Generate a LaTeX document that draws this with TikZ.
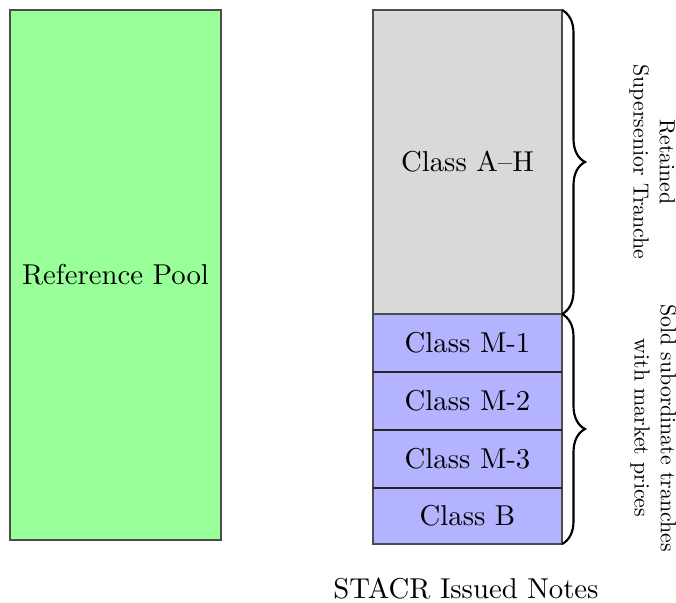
\documentclass[tikz,border=0pt]{standalone}
\usetikzlibrary{decorations.pathreplacing,positioning}
\definecolor{poolgreen}{HTML}{99FF99}
\definecolor{seniorgray}{HTML}{D9D9D9}
\definecolor{mezzblue}{HTML}{B3B3FF}
\tikzset{
  box/.style={draw=black!70, line width=0.45pt, inner sep=0pt, outer sep=0pt, anchor=north west},
  tranche/.style={box, fill=mezzblue, minimum width=189*0.348pt, minimum height=58*0.348pt},
  bracestyle/.style={decorate, decoration={brace, amplitude=8pt}, line width=0.75pt},
  sidelabel/.style={rotate=-90, align=center, inner sep=0pt}
}
\begin{document}
\begin{tikzpicture}[x=0.348pt, y=-0.348pt]
  \useasboundingbox (0,0) rectangle (676,602);
  \node[box, fill=poolgreen, minimum width=211*0.348pt, minimum height=530*0.348pt] (pool) at (10,10) {};
  \node at (pool.center) {Reference Pool};
  \node[box, fill=seniorgray, minimum width=189*0.348pt, minimum height=304*0.348pt] (senior) at (373,10) {};
  \node at (senior.center) {Class A--H};
  \node[tranche] (m1) at (373,314) {};
  \node[tranche] (m2) at (373,372) {};
  \node[tranche] (m3) at (373,430) {};
  \node[tranche, minimum height=56*0.348pt] (b) at (373,488) {};
  \draw[black!85, line width=0.45pt] (m1.south west) -- (m1.south east);
  \draw[black!85, line width=0.45pt] (m2.south west) -- (m2.south east);
  \draw[black!85, line width=0.45pt] (m3.south west) -- (m3.south east);
  \node at (m1.center) {Class M-1};
  \node at (m2.center) {Class M-2};
  \node at (m3.center) {Class M-3};
  \node at (b.center) {Class B};
  \draw[bracestyle] (senior.north east) -- (senior.south east);
  \draw[bracestyle] (m1.north east) -- (b.south east);
  \node[sidelabel] (lab1) at (652,162) {\scalebox{0.76}{\begin{tabular}{@{}c@{}}Retained\\Supersenior Tranche\end{tabular}}};
  \node[sidelabel] (lab2) at (653,428) {\scalebox{0.76}{\begin{tabular}{@{}c@{}}Sold subordinate tranches\\with market prices\end{tabular}}};
  \node (notes) at (466,589) {STACR Issued Notes};
\end{tikzpicture}
\end{document}
